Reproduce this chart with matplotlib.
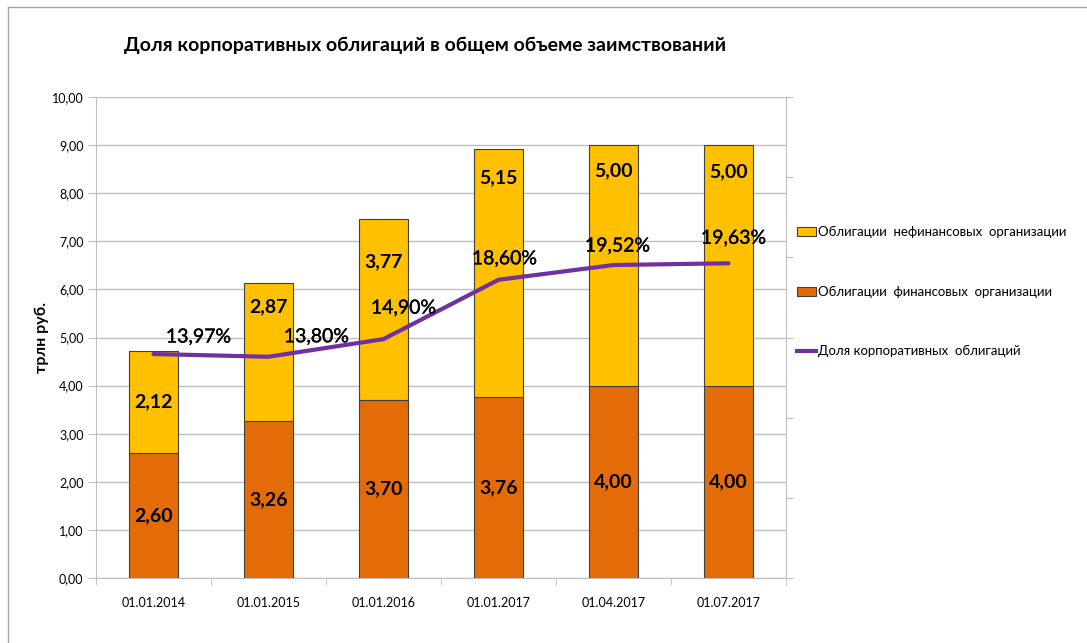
import matplotlib
matplotlib.use("Agg")
import matplotlib.pyplot as plt
import matplotlib.patheffects as pe
from matplotlib.lines import Line2D
from matplotlib.patches import Patch
import numpy as np

plt.rcParams['font.family'] = ['Lato', 'DejaVu Sans']

# data
dates = ["01.01.2014", "01.01.2015", "01.01.2016", "01.01.2017", "01.04.2017", "01.07.2017"]
fin_bonds = [2.60, 3.26, 3.70, 3.76, 4.00, 4.00]
nonfin_bonds = [2.12, 2.87, 3.77, 5.15, 5.00, 5.00]
corp_share = [13.97, 13.80, 14.90, 18.60, 19.52, 19.63]

# colours
c_fin = "#E36C09"
c_nonfin = "#FFC000"
c_line = "#7030A0"
c_grid = "#BFBFBF"


def fmt(v):
    return f"{v:.2f}".replace(".", ",")


fig = plt.figure(figsize=(10.87, 6.43), dpi=100)
ax = fig.add_axes([0.0883, 0.1011, 0.6348, 0.748])
x = np.arange(len(dates))
w = 0.42

ax.bar(x, fin_bonds, w, color=c_fin, edgecolor="#404040", linewidth=0.8, zorder=2)
ax.bar(x, nonfin_bonds, w, bottom=fin_bonds, color=c_nonfin, edgecolor="#404040",
       linewidth=0.8, zorder=2)

ax.set_xlim(-0.5, len(dates) - 0.5)
ax.set_ylim(0, 10)
ax.set_yticks(np.arange(0, 10.01, 1))
ax.set_yticklabels([fmt(v) for v in np.arange(0, 10.01, 1)], fontsize=9)
ax.yaxis.grid(True, color=c_grid, linewidth=1, zorder=0)
ax.set_axisbelow(True)
ax.tick_params(axis="y", length=6, color=c_grid, pad=3)
ax.set_xticks(x)
ax.set_xticklabels(dates, fontsize=9)
ax.set_xticks(np.arange(-0.5, len(dates)), minor=True)
ax.tick_params(axis="x", which="major", length=0, pad=14)
ax.tick_params(axis="x", which="minor", length=5, color=c_grid)
for s in ["left", "bottom", "right"]:
    ax.spines[s].set_color(c_grid)
ax.spines["top"].set_visible(False)
ax.set_ylabel("трлн руб.", fontsize=11.5, fontweight="bold", labelpad=2)

# bar value labels
for i in x:
    ax.text(i, fin_bonds[i] / 2, fmt(fin_bonds[i]), ha="center", va="center",
            fontsize=14, fontweight="bold", zorder=5)
nonfin_label_drop = [1.06, 0.5, 0.9, 0.59, 0.54, 0.56]
for i in x:
    top = fin_bonds[i] + nonfin_bonds[i]
    ax.text(i, top - nonfin_label_drop[i], fmt(nonfin_bonds[i]), ha="center", va="center",
            fontsize=14, fontweight="bold", color="black", zorder=5)

# secondary axis for share line
ax2 = ax.twinx()
ax2.set_ylim(0, 30)
ax2.set_yticks(np.arange(0, 30.01, 5))
ax2.set_yticklabels([])
ax2.tick_params(axis="y", length=5, color=c_grid)
for s in ["left", "bottom", "right", "top"]:
    ax2.spines[s].set_visible(False)
ax2.plot(x, corp_share, color=c_line, linewidth=3, solid_capstyle="round", zorder=4)

pct_offsets = [(45, 17), (48, 20), (20, 31), (6, 21), (4, 19), (5, 25)]
for i in x:
    ax2.annotate(f"{corp_share[i]:.2f}%".replace(".", ","), (i, corp_share[i]),
                 xytext=pct_offsets[i], textcoords="offset pixels",
                 ha="center", va="center", fontsize=14, zorder=6,
                 path_effects=[pe.withStroke(linewidth=0.25, foreground="black")])

# title
fig.text(0.391, 0.930, "Доля корпоративных облигаций в общем объеме заимствований",
         ha="center", va="center", fontsize=14, fontweight="bold")

# legend
handles = [
    Patch(facecolor=c_nonfin, edgecolor="#404040", linewidth=0.8),
    Patch(facecolor=c_fin, edgecolor="#404040", linewidth=0.8),
    Line2D([0], [0], color=c_line, linewidth=3),
]
labels = ["Облигации  нефинансовых  организации", "Облигации  финансовых  организации",
          "Доля корпоративных  облигаций"]
fig.legend(handles, labels, loc="upper left", bbox_to_anchor=(0.722, 0.667),
           frameon=False, fontsize=9.5, labelspacing=3.6, handlelength=1.5,
           handleheight=0.7, handletextpad=0.15)

# chart frame (top & left edges visible)
fig.add_artist(Line2D([0.0074, 0.0074], [0.0, 0.989], color="#A6A6A6", linewidth=1))
fig.add_artist(Line2D([0.0074, 1.0], [0.989, 0.989], color="#A6A6A6", linewidth=1))

fig.savefig("out.png", dpi=100)
